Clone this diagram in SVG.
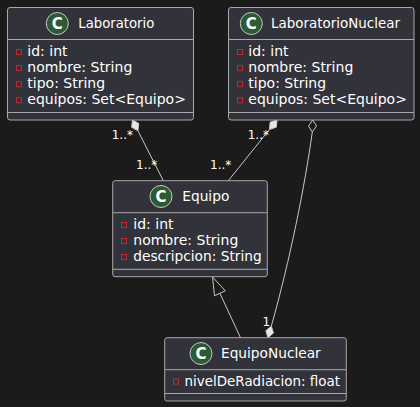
<svg xmlns="http://www.w3.org/2000/svg" width="420" height="407" viewBox="0 0 420 407">
<style>
.box{fill:#32323a;stroke:#a8a8a8;stroke-width:1}
.sep{stroke:#a8a8a8;stroke-width:1}
.circ{fill:#2b5a33;stroke:#c8c8c8;stroke-width:1}
.cl{font-family:"DejaVu Sans",sans-serif;font-size:15px;font-weight:bold;fill:#ffffff;text-anchor:middle}
.nm{font-family:"DejaVu Sans",sans-serif;font-size:14px;fill:#ffffff}
.at{font-family:"DejaVu Sans",sans-serif;font-size:14px;fill:#ffffff}
.ic{fill:none;stroke:#c8272e;stroke-width:1}
.lb{font-family:"DejaVu Sans",sans-serif;font-size:12px;fill:#ffffff}
.ln{fill:none;stroke:#c8c8c8;stroke-width:1}
.fd{fill:#e8e8e8;stroke:#c8c8c8;stroke-width:1}
.hd{fill:#1b1b1b;stroke:#c8c8c8;stroke-width:1}
</style>
<rect width="420" height="407" fill="#1b1b1b"/>

<g id="connectors">
  <polygon class="fd" points="132.5,120 138.8,123.5 137.9,130.7 131.6,127.2"/>
  <line class="ln" x1="137.9" y1="130.7" x2="163.3" y2="180.7"/>
  <polygon class="fd" points="277,120 276.3,127.2 269.5,129.4 270.1,122.2"/>
  <line class="ln" x1="269.5" y1="129.4" x2="228.3" y2="180.7"/>
  <polygon class="hd" points="312.7,120 316.5,125.9 312.3,132 308.5,126.1"/>
  <path class="ln" d="M312.3,132 C305,185 290,260 271.3,326.2"/>
  <polygon class="fd" points="268,337.7 273.5,333 271.3,326.2 265.8,330.8"/>
  <polygon class="hd" points="212.5,277 225.3,290.8 214.5,295.8"/>
  <line class="ln" x1="219.9" y1="293.3" x2="240.5" y2="337.7"/>
  <text class="lb" x="111.7" y="139.3">1..*</text>
  <text class="lb" x="136" y="169.3">1..*</text>
  <text class="lb" x="247.7" y="139.3">1..*</text>
  <text class="lb" x="210" y="169.3">1..*</text>
  <text class="lb" x="262.5" y="326">1</text>
</g>

<g id="Laboratorio">
  <rect class="box" x="7.5" y="7.5" width="186" height="112.5" rx="2.5"/>
  <line class="sep" x1="7.5" y1="39.5" x2="193.5" y2="39.5"/>
  <line class="sep" x1="7.5" y1="112.5" x2="193.5" y2="112.5"/>
  <circle class="circ" cx="57.3" cy="23.5" r="11"/>
  <text class="cl" x="57.3" y="29">C</text>
  <text class="nm" x="78.3" y="28.3" textLength="76" lengthAdjust="spacingAndGlyphs">Laboratorio</text>
  <rect class="ic" x="16.5" y="49.5" width="5" height="5"/>
  <text class="at" x="27.3" y="56">id: int</text>
  <rect class="ic" x="16.5" y="65.6" width="5" height="5"/>
  <text class="at" x="27.3" y="72.2">nombre: String</text>
  <rect class="ic" x="16.5" y="81.7" width="5" height="5"/>
  <text class="at" x="27.3" y="88.3">tipo: String</text>
  <rect class="ic" x="16.5" y="97.8" width="5" height="5"/>
  <text class="at" x="27.3" y="104.4">equipos: Set&lt;Equipo&gt;</text>
</g>

<g id="LaboratorioNuclear">
  <rect class="box" x="228.5" y="7.5" width="185.5" height="112.5" rx="2.5"/>
  <line class="sep" x1="228.5" y1="39.5" x2="414" y2="39.5"/>
  <line class="sep" x1="228.5" y1="112.5" x2="414" y2="112.5"/>
  <circle class="circ" cx="251.3" cy="23.5" r="11"/>
  <text class="cl" x="251.3" y="29">C</text>
  <text class="nm" x="271" y="28.3" textLength="129" lengthAdjust="spacingAndGlyphs">LaboratorioNuclear</text>
  <rect class="ic" x="237.5" y="49.5" width="5" height="5"/>
  <text class="at" x="248.3" y="56">id: int</text>
  <rect class="ic" x="237.5" y="65.6" width="5" height="5"/>
  <text class="at" x="248.3" y="72.2">nombre: String</text>
  <rect class="ic" x="237.5" y="81.7" width="5" height="5"/>
  <text class="at" x="248.3" y="88.3">tipo: String</text>
  <rect class="ic" x="237.5" y="97.8" width="5" height="5"/>
  <text class="at" x="248.3" y="104.4">equipos: Set&lt;Equipo&gt;</text>
</g>

<g id="Equipo">
  <rect class="box" x="112.7" y="180.7" width="154.6" height="96" rx="2.5"/>
  <line class="sep" x1="112.7" y1="212.7" x2="267.3" y2="212.7"/>
  <line class="sep" x1="112.7" y1="269.3" x2="267.3" y2="269.3"/>
  <circle class="circ" cx="161" cy="196.5" r="11"/>
  <text class="cl" x="161" y="202">C</text>
  <text class="nm" x="182.3" y="201.3" textLength="47" lengthAdjust="spacingAndGlyphs">Equipo</text>
  <rect class="ic" x="121.5" y="222.4" width="5" height="5"/>
  <text class="at" x="133.3" y="229">id: int</text>
  <rect class="ic" x="121.5" y="238.4" width="5" height="5"/>
  <text class="at" x="133.3" y="245">nombre: String</text>
  <rect class="ic" x="121.5" y="254.4" width="5" height="5"/>
  <text class="at" x="133.3" y="261" textLength="128.3" lengthAdjust="spacingAndGlyphs">descripcion: String</text>
</g>

<g id="EquipoNuclear">
  <rect class="box" x="164.7" y="337.7" width="181.6" height="63.3" rx="2.5"/>
  <line class="sep" x1="164.7" y1="369.7" x2="346.3" y2="369.7"/>
  <line class="sep" x1="164.7" y1="393.5" x2="346.3" y2="393.5"/>
  <circle class="circ" cx="201" cy="353.5" r="11"/>
  <text class="cl" x="201" y="359">C</text>
  <text class="nm" x="221" y="358.3" textLength="99.7" lengthAdjust="spacingAndGlyphs">EquipoNuclear</text>
  <rect class="ic" x="173.5" y="379" width="5" height="5"/>
  <text class="at" x="184.5" y="385.5" textLength="155.5" lengthAdjust="spacingAndGlyphs">nivelDeRadiacion: float</text>
</g>
</svg>
